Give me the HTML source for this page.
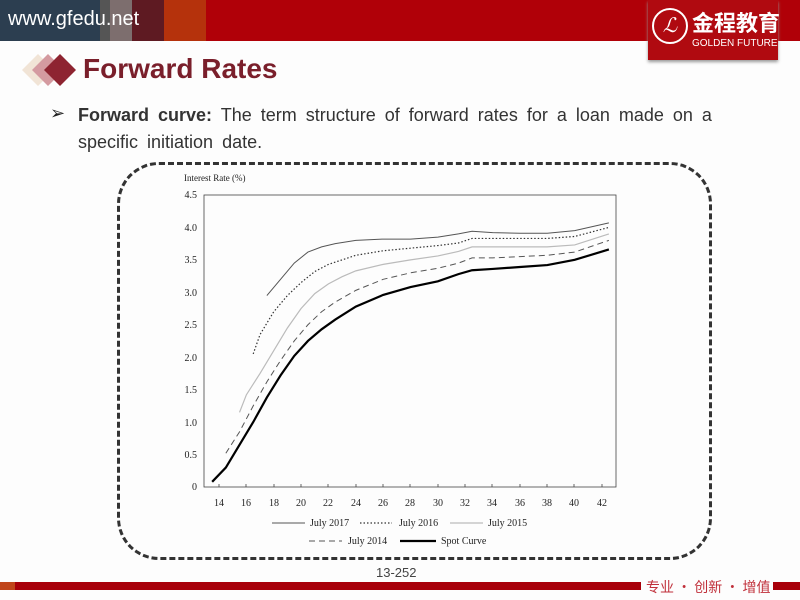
<!DOCTYPE html>
<html><head><meta charset="utf-8"><style>
body{margin:0;width:800px;height:600px;overflow:hidden;background:#fdfdfd;position:relative;font-family:"Liberation Sans","Noto Sans CJK SC",sans-serif}
.a{position:absolute}
</style></head><body>
<div class="a" style="left:0;top:0;width:800px;height:41px;background:#b00008"></div>
<div class="a" style="left:0;top:0;width:100px;height:41px;background:#2c3e50"></div>
<div class="a" style="left:100px;top:0;width:10px;height:41px;background:#555"></div>
<div class="a" style="left:110px;top:0;width:22px;height:41px;background:#7d6e6e"></div>
<div class="a" style="left:132px;top:0;width:32px;height:41px;background:#5e1a22"></div>
<div class="a" style="left:164px;top:0;width:42px;height:41px;background:#b5320c"></div>
<div class="a" style="left:8px;top:8px;color:#fff;font-size:20px">www.gfedu.net</div>
<div class="a" style="left:648px;top:0;width:130px;height:60px;background:#b00a10;box-shadow:0 2px 3px #999"></div>
<div class="a" style="left:652px;top:8px;width:36px;height:36px;border-radius:50%;border:2px solid #fff;box-sizing:border-box;color:#fff;font-size:20px;text-align:center;line-height:32px;font-style:italic">ℒ</div>
<div class="a" style="left:692px;top:6px;color:#fff;font-size:22px;font-weight:bold;font-family:'Noto Sans CJK SC',sans-serif">金程教育</div>
<div class="a" style="left:692px;top:38px;color:#fff;font-size:10px">GOLDEN FUTURE</div>
<svg class="a" style="left:18px;top:50px" width="62" height="42"><polygon points="20,4 36,20 20,36 4,20" fill="#f1e4d6"/><polygon points="30,4 46,20 30,36 14,20" fill="#d49aa0"/><polygon points="42,4 58,20 42,36 26,20" fill="#8e2431"/></svg>
<div class="a" style="left:83px;top:53px;color:#7a1f2b;font-size:28px;font-weight:bold">Forward Rates</div>
<div class="a" style="left:50px;top:103px;font-size:18px;color:#222">➢</div>
<div class="a" style="left:78px;top:102px;font-size:18px;color:#333;line-height:27px;width:650px;word-spacing:4px"><b>Forward curve:</b> The term structure of forward rates for a loan made on a specific initiation date.</div>
<div class="a" style="left:117px;top:162px;width:595px;height:398px;border:3px dashed #333;border-radius:42px;box-sizing:border-box"></div>
<svg class="a" style="left:0;top:0" width="800" height="600" font-family="Liberation Serif,serif" font-size="10" fill="#222">
<text x="184" y="181" font-size="9">Interest Rate (%)</text>
<rect x="204" y="195" width="412" height="292" fill="none" stroke="#444" stroke-width="0.8"/>
<g stroke="#444" stroke-width="0.8">
<path d="M219 487v-3M246 487v-3M274 487v-3M301 487v-3M328 487v-3M356 487v-3M383 487v-3M410 487v-3M438 487v-3M465 487v-3M492 487v-3M520 487v-3M547 487v-3M574 487v-3M602 487v-3"/>
</g>
<g text-anchor="end">
<text x="197" y="198">4.5</text><text x="197" y="231">4.0</text><text x="197" y="263">3.5</text><text x="197" y="296">3.0</text><text x="197" y="328">2.5</text><text x="197" y="361">2.0</text><text x="197" y="393">1.5</text><text x="197" y="426">1.0</text><text x="197" y="458">0.5</text><text x="197" y="490">0</text>
</g>
<g text-anchor="middle">
<text x="219" y="506">14</text><text x="246" y="506">16</text><text x="274" y="506">18</text><text x="301" y="506">20</text><text x="328" y="506">22</text><text x="356" y="506">24</text><text x="383" y="506">26</text><text x="410" y="506">28</text><text x="438" y="506">30</text><text x="465" y="506">32</text><text x="492" y="506">34</text><text x="520" y="506">36</text><text x="547" y="506">38</text><text x="574" y="506">40</text><text x="602" y="506">42</text>
</g>
<g fill="none" transform="translate(27.48,487) scale(13.68,-64.9)">
<polyline vector-effect="non-scaling-stroke" stroke="#555" stroke-width="1" points="17.5,2.95 18.5,3.2 19.5,3.45 20.5,3.62 21.5,3.7 22.5,3.75 24,3.8 26,3.82 28,3.82 30,3.85 31.5,3.9 32.5,3.94 34,3.92 36,3.91 38,3.91 40,3.95 42.5,4.07"/>
<polyline vector-effect="non-scaling-stroke" stroke="#333" stroke-width="1.2" stroke-dasharray="1.5,2" points="16.5,2.05 17,2.35 18,2.7 19,2.95 20,3.15 21,3.32 22,3.43 23,3.5 24,3.57 26,3.64 28,3.68 30,3.72 31.5,3.76 32.5,3.83 34,3.83 36,3.83 38,3.83 40,3.86 42.5,4.0"/>
<polyline vector-effect="non-scaling-stroke" stroke="#bbb" stroke-width="1.2" points="15.5,1.15 16,1.42 17,1.75 18,2.1 19,2.45 20,2.75 21,2.98 22,3.13 23,3.24 24,3.33 26,3.43 28,3.5 30,3.56 31.5,3.63 32.5,3.7 34,3.7 36,3.7 38,3.7 40,3.73 42.5,3.9"/>
<polyline vector-effect="non-scaling-stroke" stroke="#555" stroke-width="1" stroke-dasharray="6,4" points="14.5,0.52 15.5,0.85 16.5,1.25 17.5,1.62 18.5,1.95 19.5,2.25 20.5,2.5 21.5,2.7 22.5,2.85 24,3.03 26,3.2 28,3.3 30,3.37 31.5,3.45 32.5,3.53 34,3.53 36,3.55 38,3.57 40,3.62 42.5,3.8"/>
<polyline vector-effect="non-scaling-stroke" stroke="#000" stroke-width="2.2" points="13.5,0.08 14.5,0.3 15.5,0.65 16.5,1.0 17.5,1.38 18.5,1.72 19.5,2.02 20.5,2.25 21.5,2.43 22.5,2.58 24,2.78 26,2.96 28,3.08 30,3.17 31.5,3.28 32.5,3.34 34,3.36 36,3.39 38,3.42 40,3.5 42.5,3.66"/>
</g>
<line x1="272" y1="523" x2="305" y2="523" stroke="#555"/><text x="310" y="526">July 2017</text>
<line x1="360" y1="523" x2="392" y2="523" stroke="#333" stroke-width="1.2" stroke-dasharray="1.5,2"/><text x="399" y="526">July 2016</text>
<line x1="450" y1="523" x2="483" y2="523" stroke="#bbb" stroke-width="1.2"/><text x="488" y="526">July 2015</text>
<line x1="309" y1="541" x2="342" y2="541" stroke="#555" stroke-dasharray="6,4"/><text x="348" y="544">July 2014</text>
<line x1="400" y1="541" x2="436" y2="541" stroke="#000" stroke-width="2.2"/><text x="441" y="544">Spot Curve</text>
</svg>
<div class="a" style="left:376px;top:565px;font-size:13px;color:#444">13-252</div>
<div class="a" style="left:0;top:582px;width:641px;height:8px;background:#a8000a"></div>
<div class="a" style="left:0;top:582px;width:15px;height:8px;background:#c0451a"></div>
<div class="a" style="left:646px;top:577px;font-size:14px;color:#c0303a;font-family:'Noto Sans CJK SC',sans-serif">专业 · 创新 · 增值</div>
<div class="a" style="left:773px;top:582px;width:27px;height:8px;background:#a8000a"></div>
</body></html>
